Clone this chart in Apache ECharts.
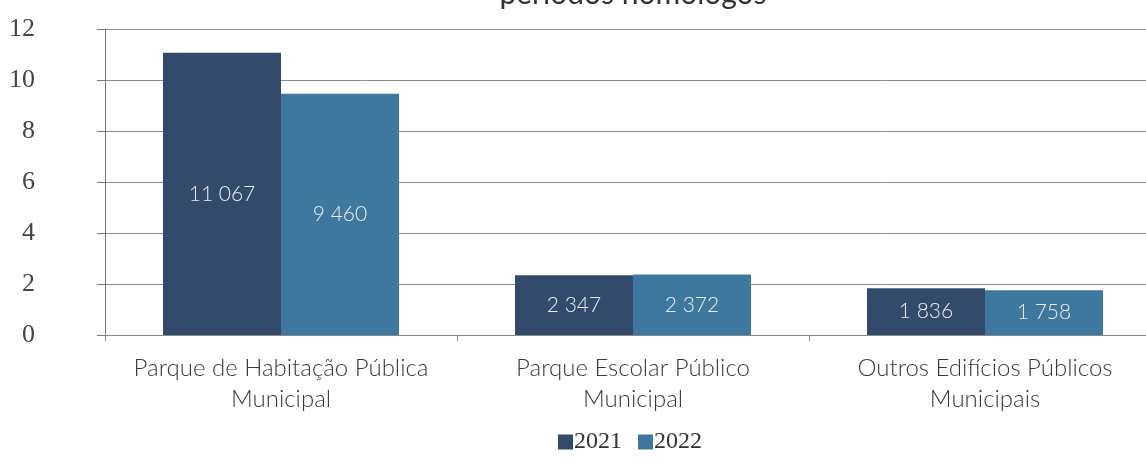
<!DOCTYPE html>
<html>
<head>
<meta charset="utf-8">
<script src="https://cdn.jsdelivr.net/npm/echarts@6/dist/echarts.min.js"></script>
<style>
  html, body { margin: 0; padding: 0; background: #fff; }
  #chart { width: 1146px; height: 468px; }
</style>
</head>
<body>
<div id="chart"></div>
<script>
// categorias e valores (unidades)
var categories = [
    'Parque de Habitação Pública\nMunicipal',
    'Parque Escolar Público\nMunicipal',
    'Outros Edifícios Públicos\nMunicipais'
];
var values2021 = [11067, 2347, 1836];
var values2022 = [9460, 2372, 1758];
var seriesNames = ['2021', '2022'];
var yTicks = [0, 2, 4, 6, 8, 10, 12]; // em milhares

function fmt(v) {
    return String(v).replace(/\B(?=(\d{3})+(?!\d))/g, ' ');
}

var myChart = echarts.init(document.getElementById('chart'));

var labelStyle = {
    show: true,
    position: 'inside',
    color: '#ececec',
    fontFamily: 'Lato',
    fontWeight: 300,
    fontSize: 21,
    formatter: function (p) { return fmt(p.value); }
};

option = {
    animation: false,
    title: {
        text: 'períodos homólogos',
        left: 628,
        textAlign: 'center',
        top: -26,
        textStyle: { fontFamily: 'Lato', fontWeight: 'normal', fontSize: 30, color: '#333' }
    },
    legend: {
        data: seriesNames,
        left: 553,
        top: 425,
        itemWidth: 15,
        itemHeight: 15,
        itemGap: 16,
        icon: 'rect',
        textStyle: { fontFamily: 'Liberation Serif', fontSize: 24, color: '#333', padding: [0, 0, 0, -4] }
    },
    grid: {
        left: 105,
        width: 1056,
        top: 29,
        bottom: 133,
        outerBoundsMode: 'none'
    },
    xAxis: {
        type: 'category',
        data: categories,
        axisLine: { lineStyle: { color: '#888' } },
        axisTick: { show: true, length: 6, lineStyle: { color: '#888' } },
        axisLabel: {
            interval: 0,
            margin: 18,
            fontFamily: 'Lato',
            fontWeight: 300,
            fontSize: 24,
            lineHeight: 31,
            color: '#3a3a3a'
        }
    },
    yAxis: {
        type: 'value',
        min: yTicks[0] * 1000,
        max: yTicks[yTicks.length - 1] * 1000,
        interval: 2000,
        axisLine: { show: true, lineStyle: { color: '#777' } },
        axisTick: { show: true, length: 8, lineStyle: { color: '#777' } },
        splitLine: { lineStyle: { color: '#8a8a8a' } },
        axisLabel: {
            margin: 70,
            fontFamily: 'Liberation Serif',
            fontSize: 26,
            color: '#444',
            formatter: function (v) { return v / 1000; }
        }
    },
    series: [
        {
            name: seriesNames[0],
            type: 'bar',
            data: values2021,
            barWidth: 118,
            barGap: '0%',
            itemStyle: { color: '#344a6d' },
            label: labelStyle
        },
        {
            name: seriesNames[1],
            type: 'bar',
            data: values2022,
            barWidth: 118,
            itemStyle: { color: '#3f789e' },
            label: labelStyle
        }
    ]
};

myChart.setOption(option);
</script>
</body>
</html>
